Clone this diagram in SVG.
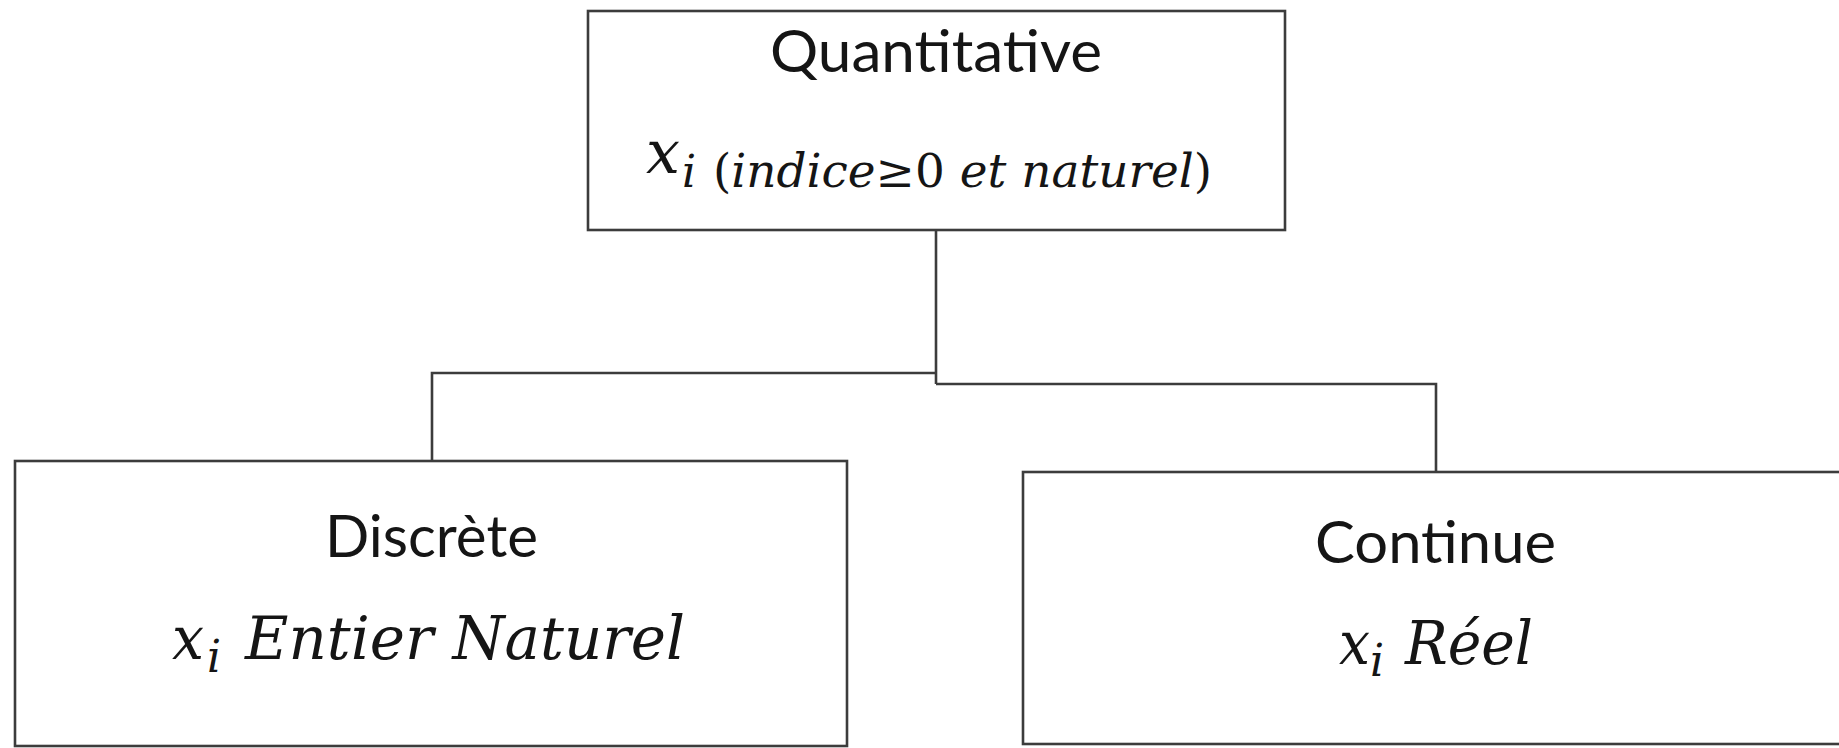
<svg xmlns="http://www.w3.org/2000/svg" width="1839" height="748" viewBox="0 0 1839 748">
<style>
.box{fill:#fff;stroke:#3c3c3c;stroke-width:2.6}
.conn{fill:none;stroke:#3c3c3c;stroke-width:2.6}
.lbl{font-family:Lato,"Open Sans","Liberation Sans",sans-serif;font-size:58px;fill:#151515}
.math{font-family:"DejaVu Serif","Liberation Serif",serif;font-style:italic;fill:#151515}
.up{font-style:normal}
</style>
<rect width="1839" height="748" fill="#fff"/>
<g id="connectors">
<path class="conn" d="M936 231 V384"/>
<path class="conn" d="M936 373 H432 V461"/>
<path class="conn" d="M936 384 H1436 V472"/>
</g>
<g id="node-quantitative">
<rect class="box" x="588" y="11" width="697" height="219"/>
<text class="lbl" x="770" y="72" textLength="332" lengthAdjust="spacingAndGlyphs">Quantitative</text>
<text class="math" x="646" y="173" font-size="59" textLength="34" lengthAdjust="spacingAndGlyphs">x</text>
<text class="math" x="682" y="187" font-size="44">i</text>
<text class="math" x="713" y="187" font-size="46" textLength="499" lengthAdjust="spacingAndGlyphs"><tspan class="up">(</tspan>indice<tspan class="up">≥0</tspan> et naturel<tspan class="up">)</tspan></text>
</g>
<g id="node-discrete">
<rect class="box" x="15" y="461" width="832" height="285"/>
<text class="lbl" x="325" y="557" textLength="213" lengthAdjust="spacingAndGlyphs">Discrète</text>
<text class="math" x="172" y="659" font-size="59" textLength="32" lengthAdjust="spacingAndGlyphs">x</text>
<text class="math" x="207" y="672" font-size="44">i</text>
<text class="math" x="245" y="659" font-size="59" textLength="440" lengthAdjust="spacingAndGlyphs">Entier Naturel</text>
</g>
<g id="node-continue">
<rect class="box" x="1023" y="472" width="830" height="272"/>
<text class="lbl" x="1315" y="563" textLength="241" lengthAdjust="spacingAndGlyphs">Continue</text>
<text class="math" x="1339" y="664" font-size="59" textLength="31" lengthAdjust="spacingAndGlyphs">x</text>
<text class="math" x="1370" y="676" font-size="44">i</text>
<text class="math" x="1405" y="664" font-size="59" textLength="128" lengthAdjust="spacingAndGlyphs">Réel</text>
</g>
</svg>
